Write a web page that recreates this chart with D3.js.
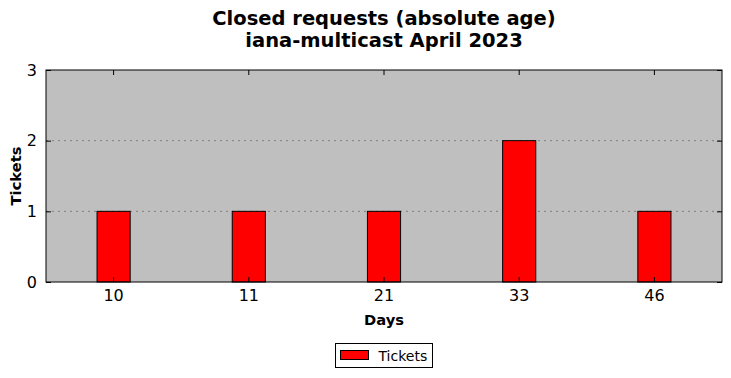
<!DOCTYPE html>
<html>
<head>
<meta charset="utf-8">
<script src="https://d3js.org/d3.v7.min.js"></script>
<style>
  body { margin: 0; background: #fff; font-family: "DejaVu Sans", sans-serif; }
  .grid line { stroke: #808080; stroke-dasharray: 2,4; stroke-width: 1; }
</style>
</head>
<body>
<div id="chart"></div>
<script>
const days = ["10", "11", "21", "33", "46"];
const tickets = [1, 1, 1, 2, 1];
const yTicks = [0, 1, 2, 3];

const W = 731, H = 378;
const m = {left: 46, right: 9, top: 70, bottom: 96};
const iw = W - m.left - m.right, ih = H - m.top - m.bottom;

const svg = d3.select('#chart').append('svg').attr('width', W).attr('height', H);

svg.append('text').attr('x', 384).attr('y', 25).attr('text-anchor', 'middle')
  .attr('font-size', 19.5).attr('font-weight', 'bold').text('Closed requests (absolute age)');
svg.append('text').attr('x', 384).attr('y', 47).attr('text-anchor', 'middle')
  .attr('font-size', 19.5).attr('font-weight', 'bold').text('iana-multicast April 2023');

const g = svg.append('g').attr('transform', 'translate(' + m.left + ',' + m.top + ')');

const x = d3.scaleBand().domain(days).range([0, iw]).padding(0);
const y = d3.scaleLinear().domain([0, 3]).range([ih, 0]);

g.append('rect').attr('width', iw).attr('height', ih).attr('fill', '#bfbfbf');

// gridlines
g.append('g').attr('class', 'grid')
  .selectAll('line').data(yTicks.slice(1, -1)).enter().append('line')
  .attr('x1', 0).attr('x2', iw).attr('y1', d => y(d)).attr('y2', d => y(d));

const bw = x.bandwidth() * 0.245;
g.selectAll('.bar').data(days).enter().append('rect')
  .attr('class', 'bar')
  .attr('x', d => x(d) + x.bandwidth() / 2 - bw / 2)
  .attr('y', (d, i) => y(tickets[i]))
  .attr('width', bw)
  .attr('height', (d, i) => ih - y(tickets[i]))
  .attr('fill', '#ff0000').attr('stroke', '#000').attr('stroke-width', 1);

// axes with inward ticks
const xb = g.append('g').attr('transform', 'translate(0,' + ih + ')')
  .call(d3.axisBottom(x).tickSize(-5).tickPadding(8));
const xt = g.append('g').call(d3.axisTop(x).tickSize(-5).tickFormat(''));
const yl = g.append('g').call(d3.axisLeft(y).tickValues(yTicks).tickFormat(d3.format('d')).tickSize(-5).tickPadding(9));
const yr = g.append('g').attr('transform', 'translate(' + iw + ',0)')
  .call(d3.axisRight(y).tickValues(yTicks).tickSize(-5).tickFormat(''));
[xb, xt, yl, yr].forEach(a => {
  a.select('.domain').remove();
  a.selectAll('text').attr('font-size', 16).attr('font-family', '"DejaVu Sans", sans-serif').attr('fill', '#000');
  a.selectAll('line').attr('stroke', '#000');
});
xb.selectAll('text').attr('dy', '0.71em');

g.append('rect').attr('width', iw).attr('height', ih).attr('fill', 'none')
  .attr('stroke', '#000').attr('stroke-width', 1);

svg.append('text').attr('x', m.left + iw / 2).attr('y', 325).attr('text-anchor', 'middle')
  .attr('font-size', 14.7).attr('font-weight', 'bold').text('Days');
svg.append('text').attr('transform', 'translate(21,' + (m.top + ih / 2) + ') rotate(-90)')
  .attr('text-anchor', 'middle').attr('font-size', 14.7).attr('font-weight', 'bold').text('Tickets');

// legend
const lg = svg.append('g').attr('transform', 'translate(335.5,343.5)');
lg.append('rect').attr('width', 97).attr('height', 24).attr('fill', '#fff').attr('stroke', '#000');
lg.append('rect').attr('x', 5).attr('y', 7).attr('width', 28).attr('height', 9)
  .attr('fill', '#ff0000').attr('stroke', '#000');
lg.append('text').attr('x', 43).attr('y', 17).attr('font-size', 14).text('Tickets');
</script>
</body>
</html>
